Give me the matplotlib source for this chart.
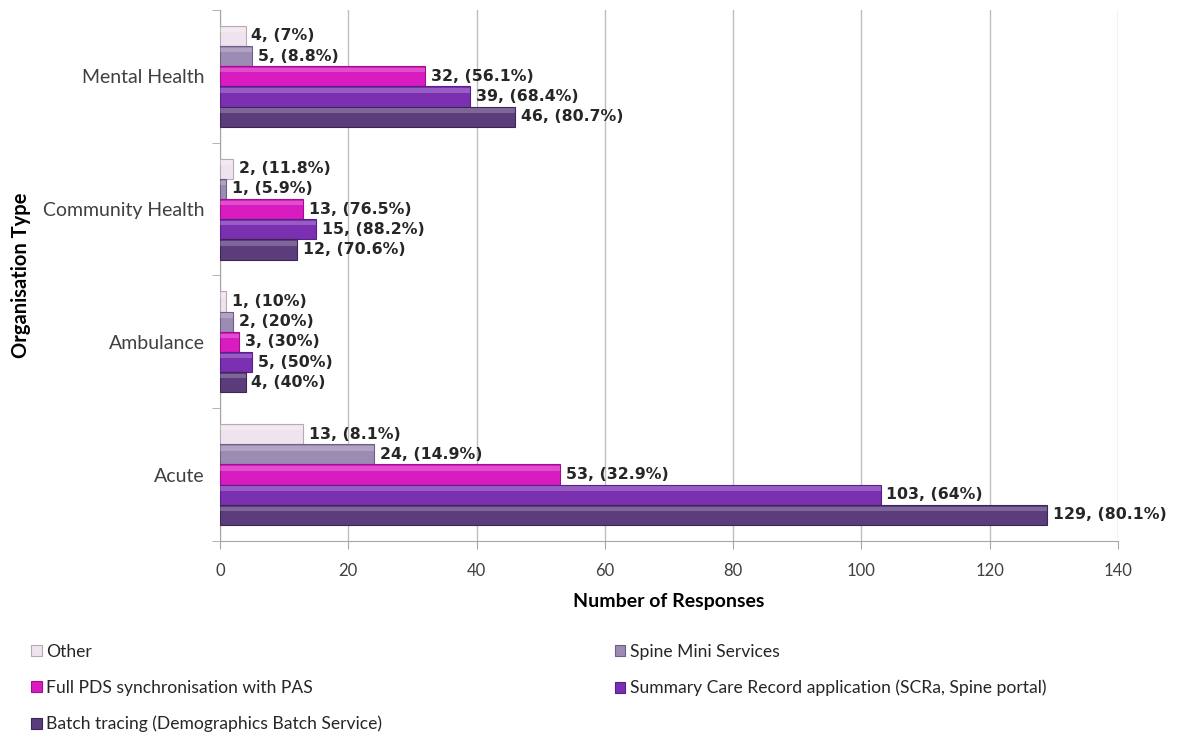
import matplotlib.pyplot as plt
import numpy as np

plt.rcParams['font.family'] = ['Lato', 'DejaVu Sans']

categories = ["Acute", "Ambulance", "Community Health", "Mental Health"]
series = ["Other", "Spine Mini Services", "Full PDS synchronisation with PAS",
          "Summary Care Record application (SCRa, Spine portal)",
          "Batch tracing (Demographics Batch Service)"]
# values per series, in category order (Acute, Ambulance, Community, Mental)
other = [13, 1, 2, 4]
spine_mini = [24, 2, 1, 5]
full_pds = [53, 3, 13, 32]
scra = [103, 5, 15, 39]
batch = [129, 4, 12, 46]
other_pct = ["8.1%", "10%", "11.8%", "7%"]
spine_mini_pct = ["14.9%", "20%", "5.9%", "8.8%"]
full_pds_pct = ["32.9%", "30%", "76.5%", "56.1%"]
scra_pct = ["64%", "50%", "88.2%", "68.4%"]
batch_pct = ["80.1%", "40%", "70.6%", "80.7%"]

values = [other, spine_mini, full_pds, scra, batch]
pcts = [other_pct, spine_mini_pct, full_pds_pct, scra_pct, batch_pct]
colors = ["#efe4ee", "#9c8bb3", "#d81cbf", "#7b30b2", "#5b3d7c"]
edges = ["#b8a8b8", "#6e5e88", "#a0108c", "#55208a", "#3c2656"]

fig = plt.figure(figsize=(11.79, 7.36), dpi=100)
ax = fig.add_axes([0.1866, 0.265, 0.7615, 0.7215])

y = np.arange(len(categories))
h = 0.152
offsets = [2 * h, h, 0, -h, -2 * h]

for vals, pc, col, ec, off, name in zip(values, pcts, colors, edges, offsets, series):
  bars = ax.barh(y + off, vals, height=h, color=col, edgecolor=ec, linewidth=0.8,
                 label=name, zorder=3)
  # light bevel stripe along the top of each bar
  ax.barh(y + off + h * 0.3, vals, height=h * 0.22, color="white", alpha=0.22,
          linewidth=0, zorder=3.5)
  for b, v, p in zip(bars, vals, pc):
    ax.text(v + 0.9, b.get_y() + h / 2, f"{v}, ({p})", va="center", ha="left",
            fontsize=11.3, fontweight="bold", color="#262626", zorder=4,
            family="DejaVu Sans")

ax.set_xlim(0, 140)
ax.set_ylim(-0.5, 3.5)
ax.set_xticks(range(0, 141, 20))
ax.set_yticks(y)
ax.set_yticklabels(categories)
ax.set_yticks(np.arange(-0.5, 3.6, 1), minor=True)
ax.tick_params(axis="y", which="major", length=0, pad=11, labelsize=14, labelcolor="#404040")
ax.tick_params(axis="y", which="minor", length=6, color="#a6a6a6", direction="out")
ax.tick_params(axis="x", length=6, color="#a6a6a6", labelsize=12, labelcolor="#404040", pad=10)
ax.grid(axis="x", color="#bfbfbf", linewidth=1, zorder=0)
for s in ["top", "right"]:
  ax.spines[s].set_visible(False)
ax.spines["left"].set_color("#a6a6a6")
ax.spines["bottom"].set_color("#a6a6a6")

ax.set_xlabel("Number of Responses", fontsize=14, fontweight="bold", labelpad=10)
ax.set_ylabel("Organisation Type", fontsize=14.5, fontweight="bold", labelpad=9)

handles, labels = ax.get_legend_handles_labels()
order = [0, 2, 4, 1, 3]
fig.legend([handles[i] for i in order], [labels[i] for i in order], ncol=2,
           loc="upper left", bbox_to_anchor=(0.013, 0.147), frameon=False,
           fontsize=12.6, handlelength=0.6, handleheight=0.6, handletextpad=0.25,
           labelspacing=1.15, columnspacing=13.3, labelcolor="#262626")

fig.savefig("out.png", dpi=100)
